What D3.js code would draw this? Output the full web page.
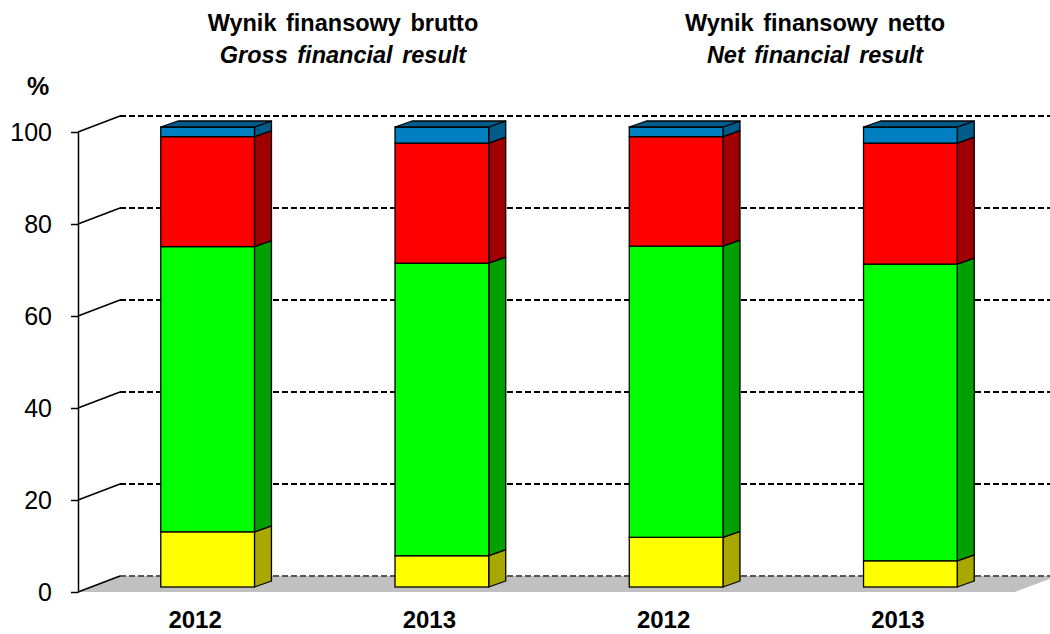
<!DOCTYPE html>
<html>
<head>
<meta charset="utf-8">
<script src="https://cdn.jsdelivr.net/npm/d3@7"></script>
<style>
html,body{margin:0;padding:0;background:#fff;}
svg{display:block;font-family:"Liberation Sans",Arial,sans-serif;}
</style>
</head>
<body>
<svg id="chart" width="1050" height="634"></svg>
<script>
// ---- data ----
const categories = ["2012", "2013", "2012", "2013"];
const groupTitles = ["Wynik finansowy brutto", "Wynik finansowy netto"];
const groupSubtitles = ["Gross financial result", "Net financial result"];
const seriesNames = ["yellow", "green", "red", "blue"];
const yellowValues = [12.0, 6.8, 10.8, 5.7];
const greenValues = [62.0, 63.6, 63.3, 64.5];
const redValues = [23.9, 26.1, 23.8, 26.3];
const blueValues = [2.1, 3.5, 2.1, 3.5];
const yTicks = [0, 20, 40, 60, 80, 100];

// ---- styles ----
const colors = {
  yellow: {front: "#FFFF00", side: "#A8A800", top: "#C8C800"},
  green:  {front: "#00FF00", side: "#00A000", top: "#00C000"},
  red:    {front: "#FF0000", side: "#A00000", top: "#C00000"},
  blue:   {front: "#0080C0", side: "#005A8A", top: "#005A8A"}
};
const wall = {dx: 42, dy: -16};
const bar = {dx: 17, dy: -6, ox: 12.5, oy: -5};

const svg = d3.select("#chart");
const x0 = 78, x1 = 1015;
const y = d3.scaleLinear().domain([0, 100]).range([592, 132]);
const x = d3.scaleBand().domain(d3.range(categories.length)).range([x0, x1])
  .paddingInner(0.6).paddingOuter(0.3);

const table = categories.map((c, i) => ({
  i, yellow: yellowValues[i], green: greenValues[i], red: redValues[i], blue: blueValues[i]
}));
const stacked = d3.stack().keys(seriesNames)(table);

// floor
svg.append("path")
  .attr("d", `M${x0},${y(0)} L${x1},${y(0)} L${x1 + wall.dx},${y(0) + wall.dy} L${x0 + wall.dx},${y(0) + wall.dy} Z`)
  .attr("fill", "#C0C0C0");

// gridlines (back wall) + diagonal connectors
const grid = svg.append("g");
yTicks.forEach(t => {
  const yy = y(t);
  grid.append("line")
    .attr("x1", x0 + wall.dx).attr("x2", x1 + wall.dx)
    .attr("y1", yy + wall.dy).attr("y2", yy + wall.dy)
    .attr("stroke", t === 0 ? "#555" : "#000")
    .attr("stroke-width", 1.8)
    .attr("stroke-dasharray", "6,3");
  grid.append("line")
    .attr("x1", x0).attr("y1", yy)
    .attr("x2", x0 + wall.dx).attr("y2", yy + wall.dy)
    .attr("stroke", "#000").attr("stroke-width", 1.5);
});

// y axis
const axis = svg.append("g").attr("transform", `translate(${x0},0)`)
  .call(d3.axisLeft(y).tickValues(yTicks).tickSize(7).tickPadding(19).tickSizeOuter(0));
axis.select(".domain").attr("stroke", "#000").attr("stroke-width", 1.5);
axis.selectAll(".tick line").attr("stroke", "#000").attr("stroke-width", 1.5);
axis.selectAll(".tick text").attr("font-size", 25).attr("fill", "#000")
  .attr("font-family", "'Liberation Sans',Arial,sans-serif");

svg.append("text").attr("x", 38).attr("y", 95).attr("text-anchor", "middle")
  .attr("font-size", 25).attr("font-weight", "bold").text("%");

// bars
const bars = svg.append("g");
table.forEach((d, i) => {
  const bx = x(i) + bar.ox;
  const bw = x.bandwidth();
  const g = bars.append("g");
  stacked.forEach((s, si) => {
    const key = s.key;
    const v0 = s[i][0], v1 = s[i][1];
    const yb = y(v0) + bar.oy, yt = y(v1) + bar.oy;
    const c = colors[key];
    // side face
    g.append("path")
      .attr("d", `M${bx + bw},${yb} L${bx + bw + bar.dx},${yb + bar.dy} L${bx + bw + bar.dx},${yt + bar.dy} L${bx + bw},${yt} Z`)
      .attr("fill", c.side).attr("stroke", "#000").attr("stroke-width", 1.3).attr("stroke-linejoin", "round");
    // front face
    g.append("rect")
      .attr("x", bx).attr("y", yt).attr("width", bw).attr("height", yb - yt)
      .attr("fill", c.front).attr("stroke", "#000").attr("stroke-width", 1.3);
    if (si === stacked.length - 1) {
      g.append("path")
        .attr("d", `M${bx},${yt} L${bx + bw},${yt} L${bx + bw + bar.dx},${yt + bar.dy} L${bx + bar.dx},${yt + bar.dy} Z`)
        .attr("fill", c.top).attr("stroke", "#000").attr("stroke-width", 1.3).attr("stroke-linejoin", "round");
    }
  });
});

// x labels
svg.append("g").selectAll("text").data(categories).join("text")
  .attr("x", (d, i) => x(i) + x.bandwidth() / 2)
  .attr("y", 628)
  .attr("text-anchor", "middle")
  .attr("font-size", 24).attr("font-weight", "bold")
  .text(d => d);

// group titles
const titleCenters = [343, 815];
groupTitles.forEach((t, gi) => {
  svg.append("text").attr("x", titleCenters[gi]).attr("y", 31)
    .attr("text-anchor", "middle").attr("font-size", 23.5).attr("font-weight", "bold")
    .attr("word-spacing", 3).text(t);
  svg.append("text").attr("x", titleCenters[gi]).attr("y", 63)
    .attr("text-anchor", "middle").attr("font-size", 23.5).attr("font-weight", "bold")
    .attr("font-style", "italic").attr("word-spacing", 3).text(groupSubtitles[gi]);
});
</script>
</body>
</html>
